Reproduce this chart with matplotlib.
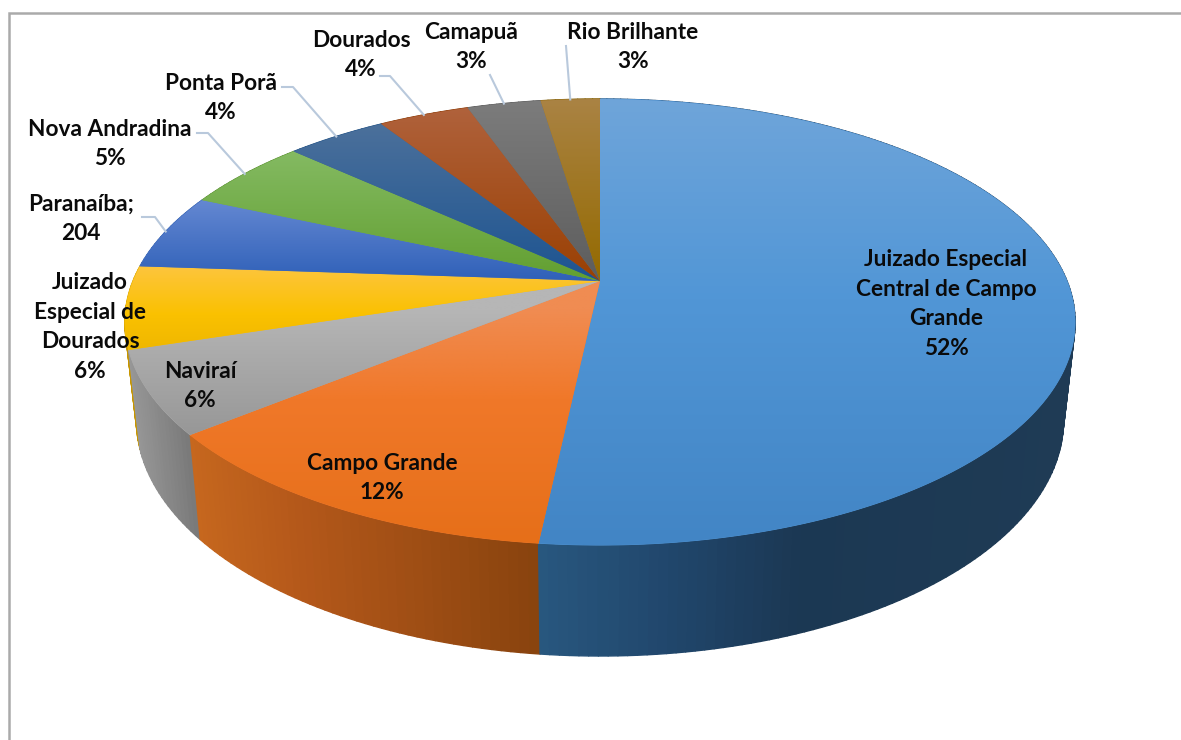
import numpy as np
import matplotlib
matplotlib.use("Agg")
import matplotlib.pyplot as plt
from matplotlib.collections import PolyCollection
from matplotlib.colors import to_rgb
from matplotlib.patches import PathPatch
from matplotlib.path import Path

plt.rcParams['font.family'] = ['Lato', 'DejaVu Sans']

# ---- data (clockwise from 12 o'clock) ----
categories = ["Juizado Especial\nCentral de Campo\nGrande", "Campo Grande", "Naviraí",
              "Juizado\nEspecial de\nDourados", "Paranaíba;", "Nova Andradina",
              "Ponta Porã", "Dourados", "Camapuã", "Rio Brilhante"]
values = [1917, 460, 222, 222, 204, 193, 152, 137, 111, 89]
value_labels = ["52%", "12%", "6%", "6%", "204", "5%", "4%", "4%", "3%", "3%"]

# ---- styles ----
top_colors = [
    [(99, "#6fa5da"), (300, "#5196d6"), (545, "#4285c5")],
    [(310, "#f08c52"), (400, "#f07829"), (545, "#e66f19")],
    [(310, "#b6b6b6"), (435, "#979797")],
    [(266, "#fdc53e"), (315, "#fac100"), (350, "#efb700")],
    [(200, "#6488d2"), (281, "#2f60b8")],
    [(152, "#84ba62"), (281, "#629f30")],
    [(125, "#4b709b"), (281, "#1d5491")],
    [(107, "#b0623c"), (281, "#9a4003")],
    [(101, "#7c7c7c"), (281, "#5d5d5d")],
    [(99, "#aa8344"), (281, "#946a00")],
]
wall_colors = [
    [(540, "#28577f"), (680, "#20456a"), (800, "#1b3853"), (1075, "#1f3b55")],
    [(190, "#c6671e"), (300, "#b4581a"), (540, "#88430e")],
    [(128, "#989898"), (200, "#747474")],
    [(128, "#c79600"), (140, "#c79600")],
    [(128, "#2c5aa8"), (140, "#2c5aa8")],
    [(128, "#4f8028"), (140, "#4f8028")],
    [(128, "#1d4a78"), (140, "#1d4a78")],
    [(128, "#803505"), (140, "#803505")],
    [(128, "#505050"), (140, "#505050")],
    [(128, "#7a5800"), (140, "#7a5800")],
]
label_pos = [(946, 304), (382, 478), (200, 386), (90, 327), (81, 219), (110, 144),
             (221, 98), (361, 55), (471, 47), (633, 47)]
leader_start = {4: [(142, 217), (155, 217)], 5: [(197, 133), (208, 133)],
                6: [(282, 87), (293, 87)], 7: [(380, 76), (390, 76)],
                8: [(490, 75)], 9: [(566, 46)]}

K = 0.184
APEX_X = 600


def top_xy(th):
    u, v = np.sin(th), np.cos(th)
    w = 1 + K * v
    return APEX_X + 467 * u / w, 281 - 215.5 * v / w


def low_xy(th):
    u, v = np.sin(th), np.cos(th)
    w = 1 + K * v
    return APEX_X + 455.6 * u / w, 376.6 - 228 * v / w


def interp_color(stops, x):
    xs = [s[0] for s in stops]
    cs = np.array([to_rgb(s[1]) for s in stops])
    return np.stack([np.interp(x, xs, cs[:, i]) for i in range(3)], axis=-1)


fig = plt.figure(figsize=(11.81, 7.4), dpi=100, facecolor="white")
ax = fig.add_axes([0, 0, 1, 1])
ax.set_axis_off()

shares = np.array(values, dtype=float) / sum(values)
edges = np.concatenate([[0], np.cumsum(shares)]) * 2 * np.pi

# side walls
polys, cols, order = [], [], []
for i in range(len(values)):
    n = max(4, int((edges[i + 1] - edges[i]) / np.radians(1.0)))
    ths = np.linspace(edges[i], edges[i + 1], n + 1)
    tx, ty = top_xy(ths)
    lx, ly = low_xy(ths)
    for j in range(n):
        polys.append([(tx[j], ty[j]), (tx[j + 1], ty[j + 1]),
                      (lx[j + 1], ly[j + 1]), (lx[j], ly[j])])
        cols.append(interp_color(wall_colors[i], (tx[j] + tx[j + 1]) / 2))
        order.append(np.cos((ths[j] + ths[j + 1]) / 2))
idx = np.argsort(order)[::-1]
ax.add_collection(PolyCollection([polys[k] for k in idx], facecolors=[cols[k] for k in idx],
                                 edgecolors=[cols[k] for k in idx], linewidths=1.0, zorder=1))

# top faces
for i in range(len(values)):
    n = max(8, int((edges[i + 1] - edges[i]) / np.radians(0.5)))
    ths = np.linspace(edges[i], edges[i + 1], n + 1)
    tx, ty = top_xy(ths)
    verts = [(APEX_X, 281)] + list(zip(tx, ty)) + [(APEX_X, 281)]
    path = Path(verts)
    x0, x1 = min(v[0] for v in verts) - 2, max(v[0] for v in verts) + 2
    y0, y1 = min(v[1] for v in verts) - 2, max(v[1] for v in verts) + 2
    ys = np.linspace(y0, y1, 256)
    grad = interp_color(top_colors[i], ys)[:, None, :]
    mid_col = interp_color(top_colors[i], (y0 + y1) / 2)
    patch = PathPatch(path, facecolor=mid_col, edgecolor=mid_col, lw=0.6, zorder=2)
    ax.add_patch(patch)
    im = ax.imshow(grad, extent=(x0, x1, y1, y0), aspect="auto", zorder=3,
                   interpolation="bilinear")
    im.set_clip_path(PathPatch(path, transform=ax.transData))

# leader lines
for i, start in leader_start.items():
    ex, ey = top_xy((edges[i] + edges[i + 1]) / 2)
    pts = start + [(ex, ey)]
    ax.plot([p[0] for p in pts], [p[1] for p in pts], color="#b9c9dc", lw=1.5, zorder=4,
            solid_joinstyle="round")

# labels
for i, (x, y) in enumerate(label_pos):
    ax.text(x, y, categories[i] + "\n" + value_labels[i], ha="center", va="center",
            fontsize=16.3, fontweight="bold", color="#0a0a0a", linespacing=1.5, zorder=5)

# frame
ax.plot([8.5, 8.5, 1181], [740, 12.5, 12.5], color="#aaaaaa", lw=1.8, zorder=6,
        solid_joinstyle="miter")

ax.set_xlim(0, 1181)
ax.set_ylim(740, 0)
fig.savefig("out.png", dpi=100)
